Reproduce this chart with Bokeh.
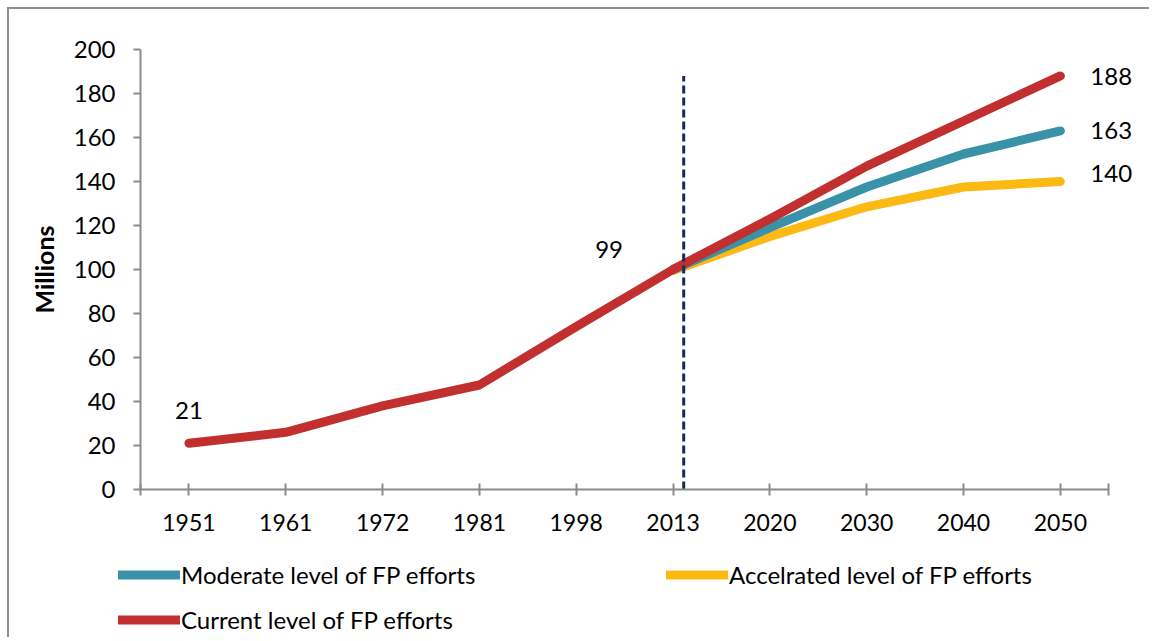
from bokeh.plotting import figure
from bokeh.models import FixedTicker, Legend, LegendItem, Range1d, Label
from bokeh.embed import file_html
from bokeh.resources import INLINE

# ---------------- data ----------------
years = ["1951", "1961", "1972", "1981", "1998", "2013", "2020", "2030", "2040", "2050"]
current = [21, 26, 38, 47.5, 74, 100, 123, 147, 167.5, 188]
moderate = [None, None, None, None, None, 100, 119, 137.5, 152.5, 163]
accelerated = [None, None, None, None, None, 99.5, 115, 128.5, 137.5, 140]

series_names = {"moderate": "Moderate level of FP efforts",
                "accelerated": "Accelrated level of FP efforts",
                "current": "Current level of FP efforts"}

label_text = ["21", "99", "188", "163", "140"]
label_year = ["1951", "2013", "2050", "2050", "2050"]
label_series = ["current", "current", "current", "moderate", "accelerated"]

divider_after = "2013"      # projection start marker drawn just after this year
divider_shift = 0.11        # fraction of a category step
divider_top = 188

y_ticks = [0, 20, 40, 60, 80, 100, 120, 140, 160, 180, 200]

# ---------------- styling ----------------
COLORS = {"current": "#C22F2F", "moderate": "#3A92A8", "accelerated": "#FDB913"}
NAVY = "#172A5A"
AXIS = "#8C8C8C"
BORDER = "2px solid #8F8F8F"
FONT = "Lato"
LINE_KW = dict(line_width=9, line_cap="round", line_join="round")

idx = list(range(len(years)))
nan = float("nan")
def clean(vals):
    return [nan if v is None else v for v in vals]

series = {"current": current, "moderate": moderate, "accelerated": accelerated}

W = 1142
n = len(years)
p = figure(width=W, height=536, output_backend="svg", toolbar_location=None,
           x_range=Range1d(-0.5, n - 0.1), y_range=Range1d(0, 200),
           min_border_left=131, min_border_right=4, min_border_top=40, min_border_bottom=56,
           margin=(7, 0, 0, 7),
           styles={"border-left": BORDER, "border-top": BORDER})
p.outline_line_color = None
p.grid.visible = False
p.background_fill_color = "white"
p.border_fill_color = "white"

# lines (red drawn last, on top)
for key in ["accelerated", "moderate", "current"]:
    p.line(idx, clean(series[key]), line_color=COLORS[key], **LINE_KW)

# divider
dx = years.index(divider_after) + divider_shift
p.segment(x0=[dx], y0=[0], x1=[dx], y1=[divider_top], line_color=NAVY,
          line_width=3, line_dash="8 4")

# data labels
offsets = [(0, 33, "center"), (-64, 20, "center"), (30, -1, "left"), (30, 0, "left"), (30, 8, "left")]
for txt, yr, s, (xo, yo, al) in zip(label_text, label_year, label_series, offsets):
    i = years.index(yr)
    p.add_layout(Label(x=i, y=series[s][i], text=txt, x_offset=xo, y_offset=yo,
                       text_align=al, text_baseline="middle", text_font=FONT,
                       text_font_size="24px", text_color="black"))

# x axis
xa = p.xaxis[0]
xa.bounds = (-0.5, n - 0.5)
xa.ticker = FixedTicker(ticks=idx, minor_ticks=[-0.5, n - 0.5])
xa.major_label_overrides = {i: y for i, y in zip(idx, years)}
xa.axis_line_color = AXIS
xa.axis_line_width = 2
xa.major_tick_line_color = AXIS
xa.major_tick_line_width = 2
xa.major_tick_in = 6
xa.major_tick_out = 6
xa.minor_tick_line_color = AXIS
xa.minor_tick_line_width = 2
xa.minor_tick_in = 6
xa.minor_tick_out = 6
xa.major_label_text_font = FONT
xa.major_label_text_font_size = "23px"
xa.major_label_text_color = "black"
xa.major_label_standoff = 18

# y axis
ya = p.yaxis[0]
ya.ticker = FixedTicker(ticks=y_ticks)
ya.axis_line_color = AXIS
ya.axis_line_width = 2
ya.major_tick_line_color = AXIS
ya.major_tick_line_width = 2
ya.major_tick_in = 0
ya.major_tick_out = 7
ya.minor_tick_line_color = None
ya.major_label_text_font = FONT
ya.major_label_text_font_size = "24px"
ya.major_label_text_color = "black"
ya.major_label_standoff = 18
ya.axis_label = "Millions"
ya.axis_label_text_font = FONT
ya.axis_label_text_font_size = "25px"
ya.axis_label_text_font_style = "bold"
ya.axis_label_text_color = "black"
ya.axis_label_standoff = 12

# ---------------- legend strip (second root, stacked below) ----------------
LH = 94
lp = figure(width=W, height=LH, output_backend="svg", toolbar_location=None,
            x_axis_location=None, y_axis_location=None,
            x_range=Range1d(0, 1), y_range=Range1d(0, 1),
            min_border=0, margin=(0, 0, 0, 7),
            styles={"border-left": BORDER})
lp.outline_line_color = None
lp.grid.visible = False
lp.background_fill_color = "white"
lp.border_fill_color = "white"
# legend proxies: same styling as the chart lines, positioned outside the visible range
proxies = {k: lp.line([-2, -1], [-2, -1], line_color=COLORS[k], **LINE_KW) for k in COLORS}

LEG_KW = dict(orientation="vertical", padding=0, margin=0, border_line_color=None,
              background_fill_alpha=0, label_standoff=1,
              glyph_width=62, glyph_height=25, label_height=25, spacing=16,
              label_text_font=FONT, label_text_font_size="24px", label_text_color="black")

leg_a = Legend(items=[LegendItem(label=series_names["moderate"], renderers=[proxies["moderate"]]),
                      LegendItem(label=series_names["current"], renderers=[proxies["current"]])],
               location=(109, 3), **LEG_KW)
leg_b = Legend(items=[LegendItem(label=series_names["accelerated"], renderers=[proxies["accelerated"]])],
               location=(657, 48), **LEG_KW)
lp.add_layout(leg_a)
lp.add_layout(leg_b)

open("out.html", "w").write(file_html([p, lp], INLINE))
